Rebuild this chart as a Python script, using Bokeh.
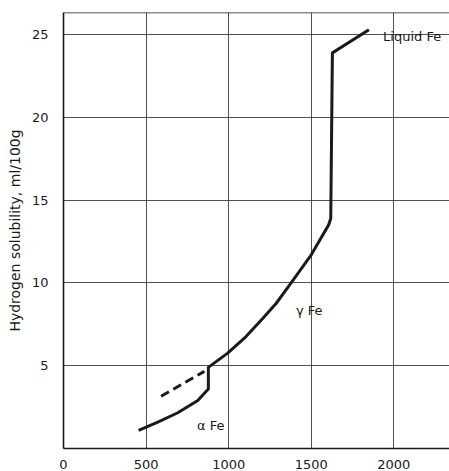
from bokeh.plotting import figure
from bokeh.models import Range1d, FixedTicker, Span, Label
from bokeh.embed import file_html
from bokeh.resources import INLINE

# Solid curve: alpha Fe -> transition -> gamma Fe -> melting jump
alpha_t = [455, 571, 692, 813, 877]
alpha_s = [1.1, 1.6, 2.16, 2.9, 3.6]
gamma_t = [877, 994, 1105, 1206, 1287, 1367, 1500, 1605, 1618]
gamma_s = [4.9, 5.76, 6.76, 7.86, 8.76, 9.86, 11.7, 13.5, 13.9]
liquid_t = [1628, 1849]
liquid_s = [23.9, 25.3]
# Dashed extrapolation of alpha Fe
dashed_t = [591, 853]
dashed_s = [3.16, 4.66]

x_ticks = [0, 500, 1000, 1500, 2000]
y_ticks = [5, 10, 15, 20, 25]

FONT = "DejaVu Sans"
INK = "#1a1a1a"

p = figure(width=449, height=471, output_backend="svg", toolbar_location=None,
           x_range=Range1d(0, 2337), y_range=Range1d(0, 26.34),
           min_border_left=63, min_border_right=0, min_border_top=12,
           min_border_bottom=20)
p.outline_line_color = None
p.background_fill_color = "white"

for ax in (p.xaxis[0], p.yaxis[0]):
    ax.axis_line_color = INK
    ax.axis_line_width = 1.6
    ax.major_tick_line_color = None
    ax.minor_tick_line_color = None
    ax.major_label_text_font = FONT
    ax.major_label_text_font_size = "13px"
    ax.major_label_text_color = INK

p.xaxis.ticker = FixedTicker(ticks=x_ticks)
p.yaxis.ticker = FixedTicker(ticks=y_ticks)
p.xaxis.major_label_standoff = 5
p.yaxis.major_label_standoff = 9
p.yaxis.axis_label = "Hydrogen solubility, ml/100g"
p.yaxis.axis_label_text_font = FONT
p.yaxis.axis_label_text_font_style = "normal"
p.yaxis.axis_label_text_font_size = "14px"
p.yaxis.axis_label_text_color = INK
p.yaxis.axis_label_standoff = 6

p.xgrid.ticker = FixedTicker(ticks=x_ticks[1:])
p.ygrid.ticker = FixedTicker(ticks=y_ticks)
for g in (p.xgrid[0], p.ygrid[0]):
    g.grid_line_color = "#333333"
    g.grid_line_width = 1
    g.grid_line_alpha = 0.85

p.add_layout(Span(location=26.34, dimension="width", line_color=INK, line_width=1.6))

solid_t = alpha_t + gamma_t + liquid_t
solid_s = alpha_s + gamma_s + liquid_s
p.line(solid_t, solid_s, line_color=INK, line_width=3, line_join="round")
p.line(dashed_t, dashed_s, line_color=INK, line_width=3, line_dash="9 5")

for txt, x, y in [("Liquid Fe", 1935, 24.9), ("\u03b3 Fe", 1407, 8.34), ("\u03b1 Fe", 808, 1.38)]:
    p.add_layout(Label(x=x, y=y, text=txt, text_font=FONT, text_font_size="13px",
                       text_color=INK, text_baseline="middle", text_align="left"))

open("out.html", "w").write(file_html(p, INLINE))
